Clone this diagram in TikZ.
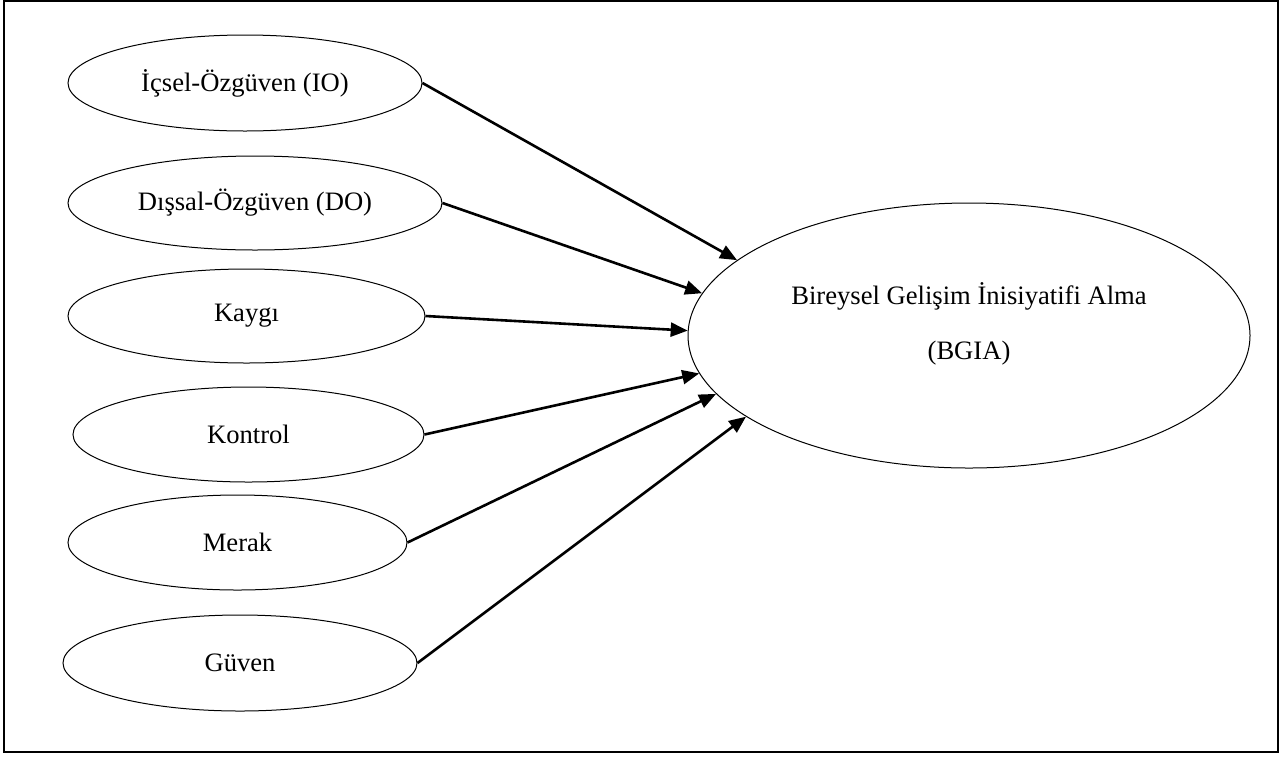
\documentclass[tikz,border=0pt]{standalone}
\usepackage{fontspec}
\setmainfont{Liberation Serif}
\usepackage{tikz}
\usetikzlibrary{arrows.meta, shapes.geometric}

\begin{document}
\begin{tikzpicture}[
  x=0.5pt, y=-0.5pt,
  every node/.style={font=\fontsize{13.3}{16}\selectfont},
  construct/.style={
    ellipse,
    draw,
    line width=0.5pt,
    inner sep=0pt,
    align=center
  },
  arrow/.style={-{Triangle[length=8.5pt, width=7pt]}, line width=1.3pt}
]
\useasboundingbox (0,0) rectangle (1283,756);
\draw[line width=0.75pt] (4,1) rectangle (1278,752);

% left-hand constructs
\node[construct, minimum width=177pt, minimum height=48pt] (io) at (245,83)
  {İçsel-Özgüven (IO)};
\node[construct, minimum width=187pt, minimum height=47pt] (do) at (255,203)
  {Dışsal-Özgüven (DO)};
\node[construct, minimum width=178.5pt, minimum height=47pt] (kaygi) at (246.5,316)
  {Kaygı};
\node[construct, minimum width=175.5pt, minimum height=47.5pt] (kontrol) at (248.5,434.5)
  {Kontrol};
\node[construct, minimum width=169.5pt, minimum height=47.5pt] (merak) at (237.5,542.5)
  {Merak};
\node[construct, minimum width=177pt, minimum height=48pt] (guven) at (240,663)
  {Güven};

% outcome
\node[construct, minimum width=281pt, minimum height=132.5pt, text depth=14pt] (bgia) at (969,335.5)
  {Bireysel Gelişim İnisiyatifi Alma\\[11.5pt](BGIA)};

\draw[arrow] (io.east) -- (bgia.162.3);
\draw[arrow] (do.east) -- (bgia.171.7);
\draw[arrow] (kaygi.east) -- (bgia.179.5);
\draw[arrow] (kontrol.east) -- (bgia.188.1);
\draw[arrow] (merak.east) -- (bgia.193.9);
\draw[arrow] (guven.east) -- (bgia.200.2);
\end{tikzpicture}
\end{document}
